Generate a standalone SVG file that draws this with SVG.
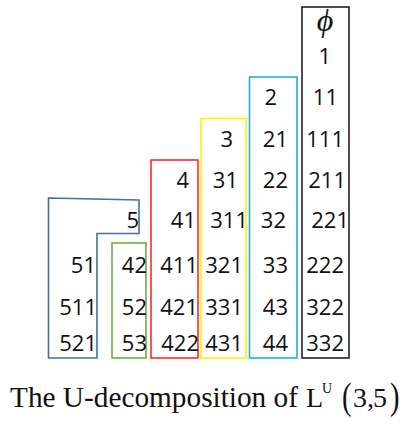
<svg xmlns="http://www.w3.org/2000/svg" width="400" height="422" viewBox="0 0 400 422">
<style>
.box{fill:none;stroke-width:1.6}
.n{font-family:"Open Sans","Liberation Sans",sans-serif;font-size:22px;fill:#111;text-anchor:end}
.cap{font-family:"Liberation Serif","DejaVu Serif",serif;fill:#111}
</style>
<rect width="400" height="422" fill="#fff"/>
<g id="col-black">
<rect class="box" x="302" y="7" width="47" height="351" stroke="#222"/>
<text x="325" y="31" font-family="Liberation Serif,serif" font-style="italic" font-size="32" text-anchor="middle" fill="#111">ϕ</text>
<text class="n" x="331" y="64">1</text>
<text class="n" x="338" y="105">11</text>
<text class="n" x="344" y="147">111</text>
<text class="n" x="346" y="188">211</text>
<text class="n" x="349" y="228">221</text>
<text class="n" x="344" y="273">222</text>
<text class="n" x="344" y="315">322</text>
<text class="n" x="344" y="351">332</text>
</g>
<g id="col-cyan">
<rect class="box" x="249.5" y="77" width="47.5" height="281" stroke="#1EAEEB"/>
<text class="n" x="277" y="105">2</text>
<text class="n" x="288" y="147">21</text>
<text class="n" x="288" y="188">22</text>
<text class="n" x="286" y="228">32</text>
<text class="n" x="288" y="273">33</text>
<text class="n" x="288" y="315">43</text>
<text class="n" x="288" y="351">44</text>
</g>
<g id="col-yellow">
<rect class="box" x="201" y="118.5" width="45" height="239.5" stroke="#FFF200"/>
<text class="n" x="233" y="147">3</text>
<text class="n" x="238" y="188">31</text>
<text class="n" x="248" y="228">311</text>
<text class="n" x="243" y="273">321</text>
<text class="n" x="243" y="315">331</text>
<text class="n" x="243" y="351">431</text>
</g>
<g id="col-red">
<rect class="box" x="151" y="160" width="47" height="198" stroke="#FF2A2A"/>
<text class="n" x="189" y="188">4</text>
<text class="n" x="196" y="228">41</text>
<text class="n" x="198" y="273">411</text>
<text class="n" x="198" y="315">421</text>
<text class="n" x="199" y="351">422</text>
</g>
<g id="col-green">
<rect class="box" x="112" y="243" width="34" height="115" stroke="#70AD47"/>
<text class="n" x="147" y="273">42</text>
<text class="n" x="147" y="315">52</text>
<text class="n" x="147" y="351">53</text>
</g>
<g id="col-blue">
<path class="box" d="M48.5,198 L139,200 L139,233.5 L97,233.5 L97,358 L48.5,358 Z" stroke="#41719C"/>
<text class="n" x="139" y="228">5</text>
<text class="n" x="96" y="273">51</text>
<text class="n" x="97" y="315">511</text>
<text class="n" x="97" y="351">521</text>
</g>
<g id="caption">
<text class="cap" x="10" y="407" font-size="30" textLength="288" lengthAdjust="spacingAndGlyphs">The U-decomposition of</text>
<text class="cap" x="306" y="407" font-size="28">L</text>
<text class="cap" x="322" y="393" font-size="14">U</text>
<text class="cap" x="342" y="409" font-size="38" transform="translate(342 409) scale(0.75 1) translate(-342 -409)">(</text>
<text class="cap" x="353" y="407" font-size="28">3,</text>
<text class="cap" x="373" y="407" font-size="28">5</text>
<text class="cap" x="390" y="409" font-size="38" transform="translate(390 409) scale(0.75 1) translate(-390 -409)">)</text>
</g>
</svg>
